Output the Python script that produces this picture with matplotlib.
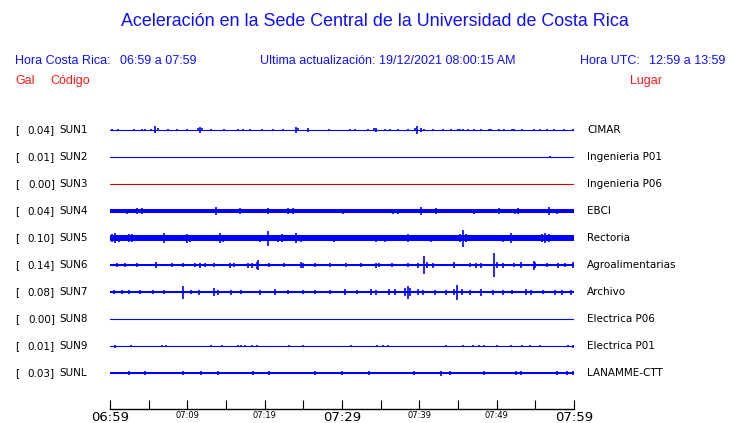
import matplotlib
matplotlib.use("Agg")
import matplotlib.pyplot as plt
import numpy as np

# --- Data ---
stations = ["SUN1", "SUN2", "SUN3", "SUN4", "SUN5", "SUN6", "SUN7", "SUN8", "SUN9", "SUNL"]
places = ["CIMAR", "Ingenieria P01", "Ingenieria P06", "EBCI", "Rectoria",
          "Agroalimentarias", "Archivo", "Electrica P06", "Electrica P01", "LANAMME-CTT"]
peak_gal = [0.04, 0.01, 0.00, 0.04, 0.10, 0.14, 0.08, 0.00, 0.01, 0.03]
trace_colors = ["#0000ff", "#0000ff", "#dd0000", "#0000ff", "#0000ff",
                "#0000ff", "#0000ff", "#0000ff", "#0000ff", "#0000ff"]

# background noise level of each trace (half amplitude, screen units)
noise_level = [0.0, 0.0, 0.0, 2.0, 2.6, 1.3, 1.3, 0.0, 0.0, 1.3]

# bursts: minute after 06:59 and half amplitude
sun1_t = [0.3, 1.0, 3.1, 4.1, 4.5, 5.3, 5.8, 6.2, 7.5, 8.6, 10.0, 11.4, 11.6, 11.9, 13.1,
          14.8, 16.6, 17.2, 18.1, 19.6, 21.1, 22.4, 24.0, 24.3, 25.6, 28.3, 31.0, 31.7, 33.3,
          34.2, 34.4, 35.5, 36.2, 37.2, 38.5, 39.5, 39.7, 40.2, 40.6, 41.8, 43.1, 44.1, 45.0,
          45.2, 45.6, 46.3, 47.1, 48.0, 49.0, 49.3, 50.3, 51.0, 52.0, 52.2, 53.3, 54.8, 55.6,
          56.5, 57.4, 58.7, 59.9]
sun1_a = [0.8, 0.8, 0.8, 1.0, 1.3, 1.2, 3.5, 1.5, 1.0, 0.8, 0.8, 1.5, 2.8, 1.5, 0.8,
          0.8, 0.8, 0.8, 1.0, 0.8, 1.0, 0.8, 3.0, 1.5, 2.0, 0.8, 0.8, 0.8, 0.8,
          1.5, 1.7, 1.0, 0.8, 1.0, 0.8, 1.5, 4.0, 2.0, 1.2, 1.0, 1.0, 0.8, 1.3,
          1.3, 1.2, 0.8, 0.8, 0.8, 1.0, 1.0, 1.0, 0.8, 1.3, 1.3, 0.8, 1.0, 0.8,
          0.8, 1.0, 0.8, 1.0]
sun2_t = [56.9]
sun2_a = [1.0]
sun4_t = [2.2, 3.5, 4.1, 8.4, 13.7, 16.8, 20.4, 23.0, 23.7, 30.1, 32.1, 33.4, 36.6, 37.2,
          38.6, 40.2, 42.2, 47.1, 50.3, 52.4, 52.7, 55.5, 56.8, 57.8]
sun4_a = [2.5, 2.7, 2.7, 2.4, 3.7, 2.7, 2.7, 2.7, 2.7, 2.5, 2.4, 2.4, 2.5, 2.5,
          2.4, 3.7, 3.0, 2.5, 3.0, 2.5, 2.7, 2.4, 3.7, 2.5]
sun5_t = [0.2, 0.6, 1.1, 1.6, 2.4, 2.8, 3.4, 3.9, 4.6, 5.4, 5.8, 6.4, 7.0, 7.7, 8.6, 9.2,
          9.9, 10.3, 11.0, 11.8, 12.5, 13.1, 14.2, 14.6, 15.7, 16.4, 17.0, 17.8, 18.6, 19.4,
          20.4, 21.0, 21.7, 22.2, 23.0, 24.0, 24.7, 25.6, 26.3, 26.9, 28.0, 29.0, 29.7, 30.3,
          31.4, 32.2, 32.9, 33.6, 34.4, 35.5, 36.3, 37.2, 38.5, 39.4, 40.4, 41.5, 42.3, 43.2,
          44.2, 45.2, 45.6, 46.0, 47.1, 47.8, 48.4, 49.2, 49.9, 50.8, 51.8, 52.5, 53.1, 54.0,
          54.8, 55.9, 56.3, 56.8, 57.8, 58.4, 59.1, 59.7]
sun5_a = [4.0, 4.7, 3.5, 3.2, 3.7, 4.0, 3.3, 3.3, 3.2, 3.3, 3.0, 3.2, 5.0, 3.3, 3.0, 3.2,
          4.5, 3.5, 3.2, 3.0, 3.2, 3.0, 5.0, 3.5, 3.3, 3.2, 3.0, 3.0, 3.2, 3.5,
          7.5, 3.2, 3.5, 4.0, 3.2, 5.0, 3.5, 3.3, 3.2, 3.3, 3.3, 3.5, 3.2, 3.3,
          3.0, 3.2, 3.3, 3.2, 3.5, 3.5, 3.3, 3.0, 3.7, 3.0, 3.2, 3.5, 3.2, 3.0,
          3.2, 4.0, 8.5, 4.0, 3.0, 3.2, 3.0, 3.2, 3.0, 3.5, 5.0, 3.2, 3.3, 3.2,
          3.3, 4.0, 5.0, 4.0, 3.0, 3.2, 3.3, 3.2]
sun6_t = [0.9, 2.0, 3.5, 5.9, 8.0, 9.5, 11.0, 11.6, 12.3, 13.5, 15.5, 16.0, 17.8, 18.4,
          19.0, 19.1, 20.5, 22.5, 24.7, 25.0, 26.5, 28.5, 30.5, 32.5, 34.4, 34.8, 36.5,
          38.5, 39.8, 40.6, 41.0, 41.8, 44.5, 46.5, 47.3, 48.0, 49.7, 50.0, 50.8, 52.2,
          53.1, 54.8, 55.0, 56.5, 57.9, 58.8, 59.9]
sun6_a = [2.0, 2.0, 2.0, 2.7, 2.0, 2.0, 2.3, 2.5, 2.3, 2.0, 2.5, 2.0, 2.5, 2.5,
          3.5, 5.0, 2.0, 2.2, 2.7, 2.5, 2.0, 2.2, 2.0, 2.3, 2.5, 2.0, 2.0,
          2.0, 2.5, 9.0, 3.0, 2.5, 3.0, 2.0, 2.5, 2.5, 11.7, 3.0, 2.5, 2.0,
          3.0, 4.5, 3.0, 2.2, 2.5, 2.2, 3.0]
sun7_t = [0.5, 1.5, 2.5, 3.9, 5.5, 7.0, 9.5, 10.5, 11.5, 13.5, 14.0, 15.7, 17.0, 19.4,
          21.3, 23.0, 25.0, 26.5, 28.5, 30.4, 32.0, 33.8, 34.4, 36.1, 36.8, 38.2, 38.5,
          38.8, 39.8, 40.5, 42.0, 43.5, 44.5, 44.9, 45.5, 46.5, 48.0, 49.5, 50.8, 52.0,
          53.8, 54.5, 56.0, 57.5, 58.5, 59.6]
sun7_a = [2.0, 2.0, 2.0, 2.3, 2.0, 2.0, 6.5, 2.0, 2.5, 4.0, 2.5, 2.5, 2.0, 2.5,
          2.7, 2.0, 2.0, 2.0, 2.0, 2.7, 2.0, 3.0, 2.5, 2.7, 2.7, 4.0, 6.5,
          4.0, 3.0, 2.5, 2.5, 2.5, 3.0, 7.5, 3.0, 2.5, 3.5, 2.5, 2.5, 2.0,
          3.0, 2.5, 2.0, 2.5, 2.5, 2.5]
sun9_t = [0.7, 2.7, 6.7, 7.3, 13.0, 14.5, 16.6, 17.0, 17.5, 18.4, 19.0, 23.2, 25.0, 31.2,
          34.5, 35.3, 36.0, 43.5, 45.6, 47.0, 47.7, 48.3, 50.0, 51.8, 53.3, 54.3, 55.6,
          59.2, 59.9]
sun9_a = [1.5, 0.8, 0.8, 0.8, 0.8, 1.0, 1.0, 1.2, 0.8, 1.2, 1.0, 1.3, 0.8, 1.3,
          1.0, 0.8, 1.0, 1.0, 0.8, 0.8, 1.0, 1.0, 0.8, 1.2, 1.0, 0.8, 0.8,
          1.0, 1.5]
sunl_t = [2.5, 4.5, 9.5, 11.8, 14.0, 18.5, 20.5, 26.5, 30.0, 33.5, 39.3, 42.8, 44.0,
          48.3, 52.5, 53.1, 57.8, 59.1, 59.9]
sunl_a = [1.7, 1.8, 1.7, 2.2, 1.8, 1.7, 1.7, 1.8, 1.7, 1.7, 2.2, 2.5, 1.8,
          2.2, 2.0, 2.3, 1.8, 2.2, 2.0]

burst_times = [sun1_t, sun2_t, [], sun4_t, sun5_t, sun6_t, sun7_t, [], sun9_t, sunl_t]
burst_amps = [sun1_a, sun2_a, [], sun4_a, sun5_a, sun6_a, sun7_a, [], sun9_a, sunl_a]

tick_minutes = list(range(0, 61, 5))
tick_labels = ["06:59", "", "07:09", "", "07:19", "", "07:29", "", "07:39", "", "07:49", "", "07:59"]
big_ticks = ["06:59", "07:29", "07:59"]

# --- Figure ---
W, H = 740, 423
fig = plt.figure(figsize=(W / 100, H / 100), dpi=100)
fig.patch.set_facecolor("white")

def px(x, y):
    return x / W, 1 - y / H

blue = "#1010ff"
red = "#ff1a1a"
hdr = dict(family="Liberation Sans", fontsize=9)

fig.text(*px(375, 22), "Aceleración en la Sede Central de la Universidad de Costa Rica",
         color=blue, ha="center", va="center", family="Liberation Sans", fontsize=12.9)
fig.text(*px(15, 61), "Hora Costa Rica:", color=blue, va="center", **hdr)
fig.text(*px(120, 61), "06:59 a 07:59", color=blue, va="center", **hdr)
fig.text(*px(260, 61), "Ultima actualización:", color=blue, va="center", **hdr)
fig.text(*px(379, 61), "19/12/2021 08:00:15 AM", color=blue, va="center", **hdr)
fig.text(*px(580, 61), "Hora UTC:", color=blue, va="center", **hdr)
fig.text(*px(649, 61), "12:59 a 13:59", color=blue, va="center", **hdr)
fig.text(*px(15, 81), "Gal", color=red, va="center", **hdr)
fig.text(*px(50, 81), "Código", color=red, va="center", **hdr)
fig.text(*px(630, 81), "Lugar", color=red, va="center", **hdr)

# trace panel, y in screen-like units (top to bottom)
ax = fig.add_axes([110 / W, 1 - 409 / H, 464 / W, (409 - 112) / H])
ax.set_xlim(0, 60)
ax.set_ylim(409, 112)

for i, name in enumerate(stations):
    yc = 130 + 27 * i
    c = trace_colors[i]
    ax.plot([0, 60], [yc, yc], color=c, lw=0.8)
    if noise_level[i] > 0:
        ax.fill_between([0, 60], yc - noise_level[i], yc + noise_level[i], color=c, lw=0)
    t = np.array(burst_times[i])
    a = np.array(burst_amps[i])
    if len(t):
        ax.vlines(t, yc - a, yc + a, color=c, lw=1.2)
    fig.text(*px(15, yc), "[", fontsize=7.5, va="center")
    fig.text(*px(55, yc), f"{peak_gal[i]:.2f}]", fontsize=7.5, va="center", ha="right")
    fig.text(*px(59, yc), name, fontsize=7.5, va="center")
    fig.text(*px(587, yc), places[i], fontsize=7.5, va="center")

for s in ["top", "left", "right"]:
    ax.spines[s].set_visible(False)
ax.spines["bottom"].set_linewidth(1.0)
ax.set_yticks([])
ax.set_xticks(tick_minutes)
ax.set_xticklabels(tick_labels)
ax.tick_params(axis="x", direction="in", length=6.5, width=0.8, pad=1.5)
for lab in ax.get_xticklabels():
    if lab.get_text() in big_ticks:
        lab.set_fontsize(9.5)
    else:
        lab.set_fontsize(6)

fig.savefig("out.png", dpi=100, facecolor="white")
